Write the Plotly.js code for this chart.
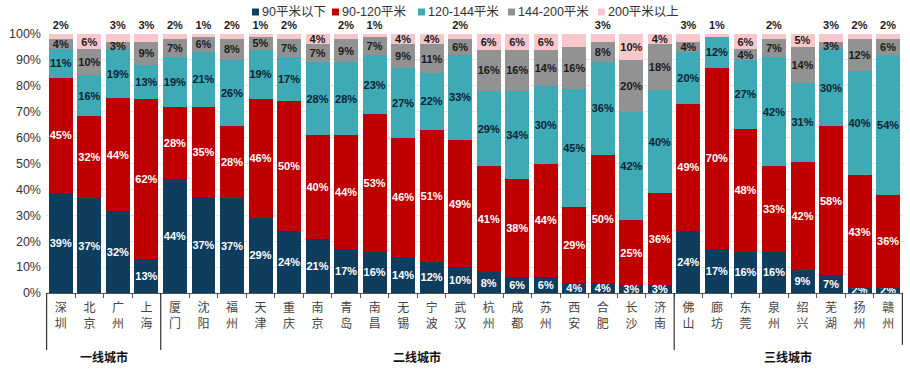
<!DOCTYPE html>
<html><head><meta charset="utf-8">
<script src="https://cdn.plot.ly/plotly-3.0.1.min.js"></script>
<style>html,body{margin:0;padding:0;background:#fff}#chart{width:910px;height:373px}</style>
</head><body><div id="chart"></div>
<script>
const cities = ['深圳','北京','广州','上海','厦门','沈阳','福州','天津','重庆','南京','青岛','南昌','无锡','宁波','武汉','杭州','成都','苏州','西安','合肥','长沙','济南','佛山','廊坊','东莞','泉州','绍兴','芜湖','扬州','赣州'];
const seriesNames = ['90平米以下','90-120平米','120-144平米','144-200平米','200平米以上'];
const s90 =     [39,37,32,13,44,37,37,29,24,21,17,16,14,12,10, 8, 6, 6, 4, 4, 3, 3,24,17,16,16, 9, 7, 2, 2];
const s90_120 = [45,32,44,62,28,35,28,46,50,40,44,53,46,51,49,41,38,44,29,50,25,36,49,70,48,33,42,58,43,36];
const s120_144 =[11,16,19,13,19,21,26,19,17,28,28,23,27,22,33,29,34,30,45,36,42,40,20,12,27,42,31,30,40,54];
const s144_200 =[ 4,10, 3, 9, 7, 6, 8, 5, 7, 7, 9, 7, 9,11, 6,16,16,14,16, 8,20,18, 4, 0, 4, 7,14, 3,12, 6];
const s200 =    [ 2, 6, 3, 3, 2, 1, 2, 1, 2, 4, 2, 1, 4, 4, 2, 6, 6, 6, 5, 3,10, 4, 3, 1, 6, 2, 5, 3, 2, 2];
const groups = [{name:'一线城市', from:0, to:3},{name:'二线城市', from:4, to:21},{name:'三线城市', from:22, to:29}];

const colors = ['#0e3d5e','#c00000','#3eaab5','#929292','#f8c6cb'];
const textColors = ['#ffffff','#ffffff','#0d2233','#1a1a1a','#1a1a1a'];
const all = [s90,s90_120,s120_144,s144_200,s200];
const tickText = cities.map(c => c[0] + '<br>' + c[1]);
const font = 'Liberation Sans, Arial, Noto Sans CJK SC, sans-serif';

// plot-area geometry (px) used to place the hand-drawn legend
const M = {l:46, r:7, t:34, b:80};
const W = 910, H = 373;
const pw = W - M.l - M.r, ph = H - M.t - M.b;
const px2x = p => (p - M.l) / pw;
const py2y = p => (H - M.b - p) / ph;

const traces = all.map((vals, i) => ({
  type:'bar', name: seriesNames[i], x: cities, y: vals,
  marker:{color: colors[i]},
  text: vals.map(v => v > 0 ? v + '%' : ''),
  textposition: i === 4 ? vals.map(v => v <= 3 ? 'outside' : 'inside') : 'inside',
  insidetextanchor: 'middle',
  textangle: 0,
  constraintext: 'none',
  cliponaxis: false,
  textfont:{family: font, size: 11, color: textColors[i], weight: 'bold'},
  outsidetextfont:{family: font, size: 11, color: '#1a1a1a', weight: 'bold'},
  hoverinfo:'skip', showlegend:false
}));

const shapes = [];
const bounds = [-0.5, 3.5, 21.5, 29.5];
bounds.forEach((b, k) => shapes.push({type:'line', xref:'x', yref:'paper', x0:b, x1:b, y0:0, y1: k===3 ? -0.2 : -0.22, line:{color:'#333', width:1.2}}));

const annotations = groups.map(g => ({
  xref:'x', yref:'paper', x:(g.from + g.to)/2, y:-0.245, text:'<b>' + g.name + '</b>', showarrow:false,
  font:{family:'Noto Sans CJK SC, sans-serif', size:12, color:'#111'}, yanchor:'middle'
}));

// legend (drawn by hand to match compact spacing)
const legendPx = [252, 332, 418, 508, 598];
const legendY = 12;
seriesNames.forEach((n, i) => {
  shapes.push({type:'rect', xref:'paper', yref:'paper', x0:px2x(legendPx[i]), x1:px2x(legendPx[i]+7),
    y0:py2y(legendY+3.5), y1:py2y(legendY-3.5), fillcolor:colors[i], line:{width:0}});
  annotations.push({xref:'paper', yref:'paper', x:px2x(legendPx[i]+8), y:py2y(legendY), xanchor:'left', yanchor:'middle',
    text:n, showarrow:false, font:{family:'Liberation Sans, Noto Sans CJK SC, sans-serif', size:12.5, color:'#333'}});
});

const layout = {
  width:W, height:H,
  margin:{l:M.l, r:M.r, t:M.t, b:M.b, autoexpand:false},
  barmode:'stack', barnorm:'percent', bargap:0.16,
  paper_bgcolor:'#fff', plot_bgcolor:'#fff',
  showlegend:false,
  xaxis:{type:'category', tickvals: cities, ticktext: tickText, tickson:'boundaries', ticks:'outside', ticklen:4, tickcolor:'#555',
    ticklabelstandoff:4,
    showline:true, linecolor:'#555', linewidth:1, showgrid:false,
    tickfont:{family:'Noto Sans CJK SC, sans-serif', size:12, color:'#444'}},
  yaxis:{range:[0,100], dtick:10, ticksuffix:'%', showgrid:true, gridcolor:'#e6e6e6', zeroline:false,
    ticklabelstandoff:4,
    showline:false, ticks:'', tickfont:{family: font, size:12.5, color:'#333'}},
  shapes, annotations,
  font:{family: font}
};
Plotly.newPlot('chart', traces, layout, {displayModeBar:false, staticPlot:true});
</script></body></html>
